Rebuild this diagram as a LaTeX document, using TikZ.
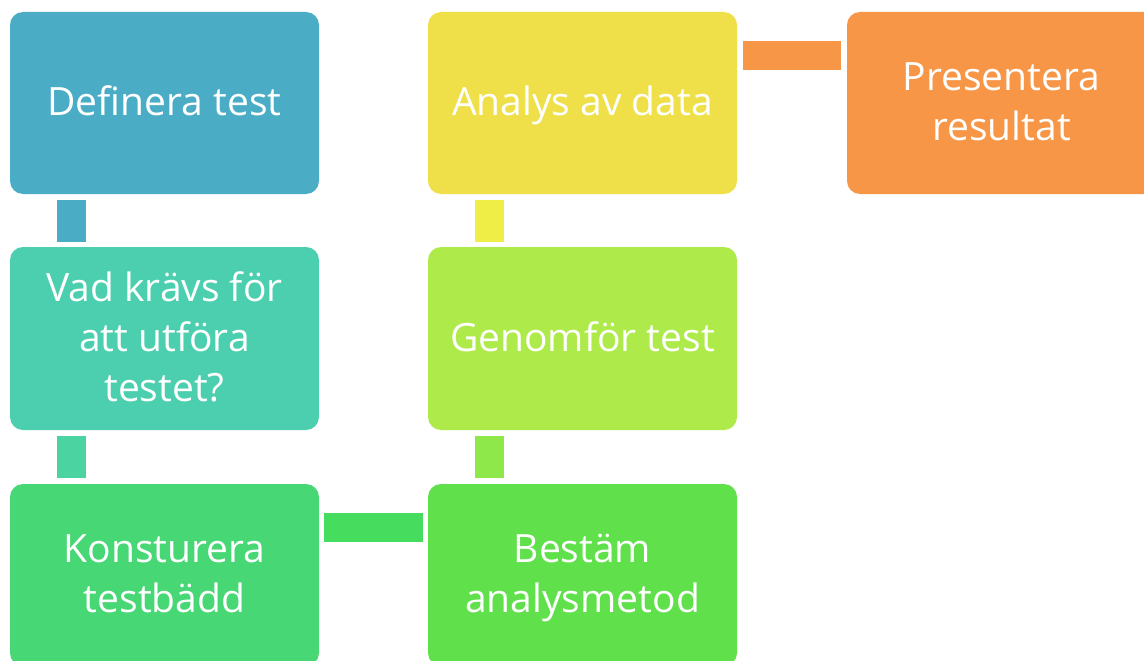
\documentclass[tikz,border=0pt]{standalone}
\usepackage{fontspec}
\setmainfont[Ligatures=NoCommon]{Open Sans}
\usetikzlibrary{calc}
\definecolor{cDef}{HTML}{4BACC6}
\definecolor{cVad}{HTML}{4BCFAE}
\definecolor{cVadK}{HTML}{4BD3A2}
\definecolor{cKon}{HTML}{47D774}
\definecolor{cKonB}{HTML}{46DC5E}
\definecolor{cBes}{HTML}{60E04A}
\definecolor{cBesG}{HTML}{8EE84A}
\definecolor{cGen}{HTML}{ADEA4A}
\definecolor{cGenA}{HTML}{EEEE46}
\definecolor{cAna}{HTML}{EFE04A}
\definecolor{cPre}{HTML}{F79646}
% fixed line height so every label is centred on the same metrics
\newcommand{\linestrut}{\rule[-12.5pt]{0pt}{50pt}}
\tikzset{
  stepbox/.style={rectangle, rounded corners=13pt, draw=none, fill=#1,
    text=white, minimum width=309pt, minimum height=182pt,
    align=center, inner sep=0pt,
    font=\fontsize{39}{50}\selectfont},
  link/.style={line width=29pt, draw=#1},
}
\begin{document}
\begin{tikzpicture}[x=1pt,y=-1pt]
\useasboundingbox (0,0) rectangle (1144,661);
% column one
\node[stepbox=cDef] (def) at (164.5,103) {\linestrut Definera test};
\node[stepbox=cVad, minimum height=183pt] (vad) at (164.5,338.5) {\linestrut Vad krävs för\\att utföra\\testet?\linestrut};
\node[stepbox=cKon] (kon) at (164.5,575) {\linestrut Konsturera\\testbädd\linestrut};
% column two
\node[stepbox=cBes] (bes) at (582.5,575) {\linestrut Bestäm\\analysmetod\linestrut};
\node[stepbox=cGen, minimum height=183pt] (gen) at (582.5,338.5) {\linestrut Genomför test};
\node[stepbox=cAna] (ana) at (582.5,103) {\linestrut Analys av data};
% column three
\node[stepbox=cPre] (pre) at (1001.5,103) {\linestrut Presentera\\resultat\linestrut};
% connectors
\draw[link=cDef] ($(def.south west)+(61.5,6)$) -- ($(vad.north west)+(61.5,-5)$);
\draw[link=cVadK] ($(vad.south west)+(61.5,6)$) -- ($(kon.north west)+(61.5,-6)$);
\draw[link=cKonB] ($(kon.north east)+(5,43.5)$) -- ($(bes.north west)+(-5,43.5)$);
\draw[link=cBesG] ($(bes.north west)+(61.5,-6)$) -- ($(gen.south west)+(61.5,6)$);
\draw[link=cGenA] ($(gen.north west)+(61.5,-5)$) -- ($(ana.south west)+(61.5,6)$);
\draw[link=cPre] ($(ana.north east)+(6,43.5)$) -- ($(pre.north west)+(-6,43.5)$);
\end{tikzpicture}
\end{document}
